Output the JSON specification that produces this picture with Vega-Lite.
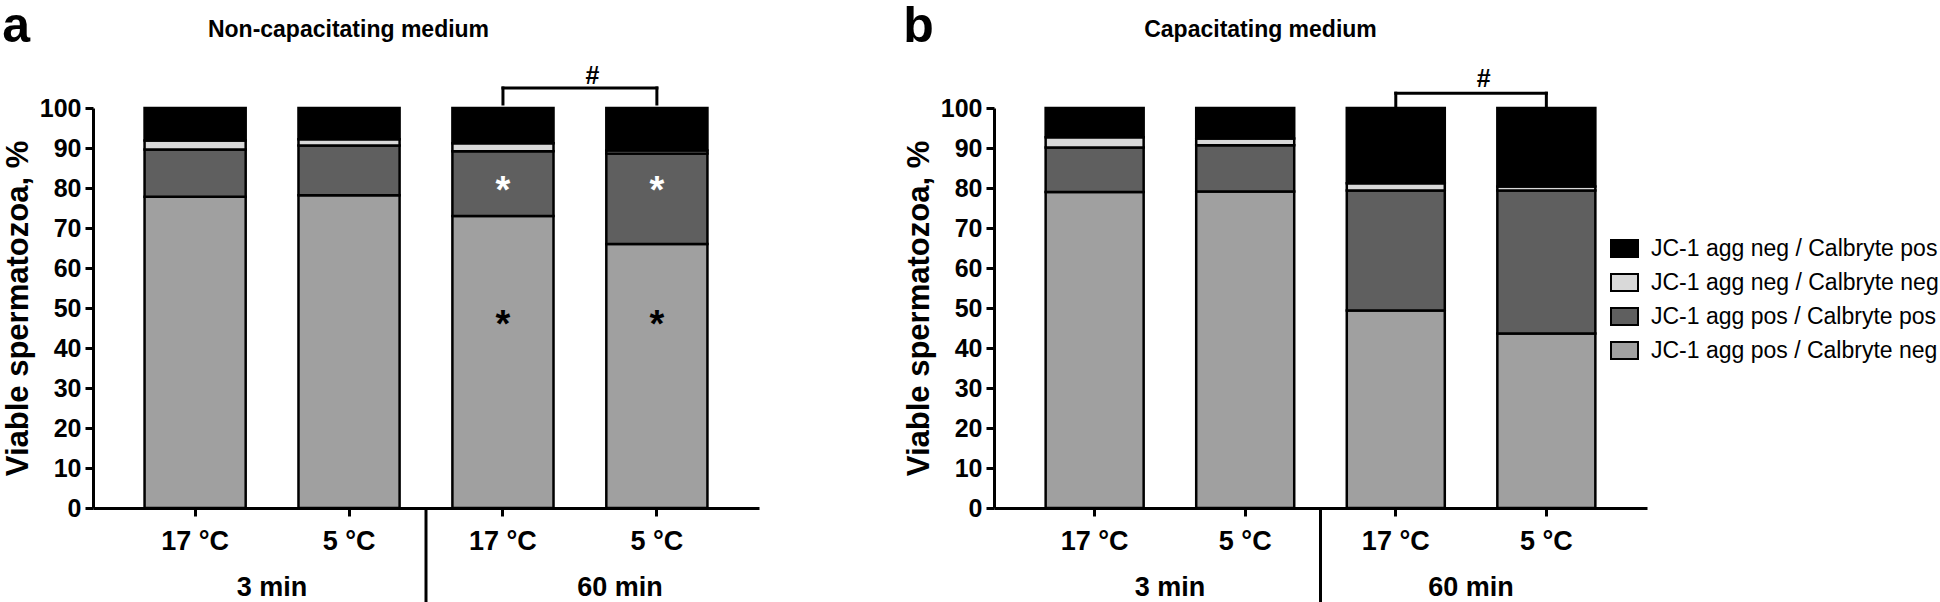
{
  "$schema": "https://vega.github.io/schema/vega-lite/v6.json",
  "padding": {"left": 2, "top": 2, "right": 0, "bottom": 0},
  "background": "white",
  "config": {
    "font": "Liberation Sans",
    "view": {"stroke": null},
    "axis": {"domainColor": "#000", "tickColor": "#000", "labelColor": "#000", "titleColor": "#000", "grid": false, "labelFont": "Liberation Sans", "titleFont": "Liberation Sans", "labelOverlap": false},
    "axisY": {"values": [0, 10, 20, 30, 40, 50, 60, 70, 80, 90, 100], "tickCount": 10, "labelOverlap": false, "titleFontSize": 31, "titleFontWeight": "bold", "titlePadding": 5, "labelFontSize": 25, "labelFontWeight": "bold", "labelPadding": 4, "tickSize": 8, "tickWidth": 3, "domainWidth": 3},
    "title": {"color": "#000", "font": "Liberation Sans"},
    "text": {"font": "Liberation Sans"}
  },
  "datasets": {
    "a": [
      {"cat": "3 min|17 °C", "pop": "JC-1 agg pos / Calbryte neg", "k": 1, "v": 77.8},
      {"cat": "3 min|17 °C", "pop": "JC-1 agg pos / Calbryte pos", "k": 2, "v": 11.8},
      {"cat": "3 min|17 °C", "pop": "JC-1 agg neg / Calbryte neg", "k": 3, "v": 2.3},
      {"cat": "3 min|17 °C", "pop": "JC-1 agg neg / Calbryte pos", "k": 4, "v": 8.1},
      {"cat": "3 min|5 °C", "pop": "JC-1 agg pos / Calbryte neg", "k": 1, "v": 78.2},
      {"cat": "3 min|5 °C", "pop": "JC-1 agg pos / Calbryte pos", "k": 2, "v": 12.4},
      {"cat": "3 min|5 °C", "pop": "JC-1 agg neg / Calbryte neg", "k": 3, "v": 1.6},
      {"cat": "3 min|5 °C", "pop": "JC-1 agg neg / Calbryte pos", "k": 4, "v": 7.8},
      {"cat": "60 min|17 °C", "pop": "JC-1 agg pos / Calbryte neg", "k": 1, "v": 73.0},
      {"cat": "60 min|17 °C", "pop": "JC-1 agg pos / Calbryte pos", "k": 2, "v": 16.2},
      {"cat": "60 min|17 °C", "pop": "JC-1 agg neg / Calbryte neg", "k": 3, "v": 2.0},
      {"cat": "60 min|17 °C", "pop": "JC-1 agg neg / Calbryte pos", "k": 4, "v": 8.8},
      {"cat": "60 min|5 °C", "pop": "JC-1 agg pos / Calbryte neg", "k": 1, "v": 66.0},
      {"cat": "60 min|5 °C", "pop": "JC-1 agg pos / Calbryte pos", "k": 2, "v": 22.6},
      {"cat": "60 min|5 °C", "pop": "JC-1 agg neg / Calbryte neg", "k": 3, "v": 0.8},
      {"cat": "60 min|5 °C", "pop": "JC-1 agg neg / Calbryte pos", "k": 4, "v": 10.6}
    ],
    "b": [
      {"cat": "3 min|17 °C", "pop": "JC-1 agg pos / Calbryte neg", "k": 1, "v": 79.0},
      {"cat": "3 min|17 °C", "pop": "JC-1 agg pos / Calbryte pos", "k": 2, "v": 11.1},
      {"cat": "3 min|17 °C", "pop": "JC-1 agg neg / Calbryte neg", "k": 3, "v": 2.6},
      {"cat": "3 min|17 °C", "pop": "JC-1 agg neg / Calbryte pos", "k": 4, "v": 7.3},
      {"cat": "3 min|5 °C", "pop": "JC-1 agg pos / Calbryte neg", "k": 1, "v": 79.1},
      {"cat": "3 min|5 °C", "pop": "JC-1 agg pos / Calbryte pos", "k": 2, "v": 11.6},
      {"cat": "3 min|5 °C", "pop": "JC-1 agg neg / Calbryte neg", "k": 3, "v": 1.7},
      {"cat": "3 min|5 °C", "pop": "JC-1 agg neg / Calbryte pos", "k": 4, "v": 7.6},
      {"cat": "60 min|17 °C", "pop": "JC-1 agg pos / Calbryte neg", "k": 1, "v": 49.4},
      {"cat": "60 min|17 °C", "pop": "JC-1 agg pos / Calbryte pos", "k": 2, "v": 30.0},
      {"cat": "60 min|17 °C", "pop": "JC-1 agg neg / Calbryte neg", "k": 3, "v": 1.8},
      {"cat": "60 min|17 °C", "pop": "JC-1 agg neg / Calbryte pos", "k": 4, "v": 18.8},
      {"cat": "60 min|5 °C", "pop": "JC-1 agg pos / Calbryte neg", "k": 1, "v": 43.6},
      {"cat": "60 min|5 °C", "pop": "JC-1 agg pos / Calbryte pos", "k": 2, "v": 35.8},
      {"cat": "60 min|5 °C", "pop": "JC-1 agg neg / Calbryte neg", "k": 3, "v": 1.0},
      {"cat": "60 min|5 °C", "pop": "JC-1 agg neg / Calbryte pos", "k": 4, "v": 19.6}
    ]
  },
  "spacing": 144,
  "hconcat": [
    {
      "title": {"text": "a", "anchor": "start", "frame": "bounds", "fontSize": 50, "fontWeight": "bold", "offset": -74, "baseline": "alphabetic"},
      "width": 666,
      "height": 400,
      "layer": [
        {
          "data": {"name": "a"},
          "layer": [
            {
              "mark": {"type": "bar", "stroke": "#000", "strokeWidth": 2.5},
              "encoding": {
                "x": {"field": "cat", "type": "nominal", "scale": {"domain": ["3 min|17 °C", "3 min|5 °C", "60 min|17 °C", "60 min|5 °C"], "paddingInner": 0.343, "paddingOuter": 0.335},
                  "axis": {"orient": "bottom", "title": null, "labelExpr": "split(datum.label, '|')[1]", "labelAngle": 0, "labelFontSize": 27, "labelFontWeight": "bold", "labelPadding": 12, "tickSize": 8, "tickWidth": 3, "domainWidth": 3}},
                "y": {"field": "v", "type": "quantitative", "stack": "zero", "scale": {"domain": [0, 100]}, "title": "Viable spermatozoa, %"},
                "color": {"field": "pop", "type": "nominal", "scale": {"domain": ["JC-1 agg neg / Calbryte pos", "JC-1 agg neg / Calbryte neg", "JC-1 agg pos / Calbryte pos", "JC-1 agg pos / Calbryte neg"], "range": ["#000000", "#d9d9d9", "#5f5f5f", "#a0a0a0"]}, "legend": null},
                "order": {"field": "k", "type": "quantitative"}
              }
            },
            {
              "data": {"values": [{}]},
              "mark": {"type": "rule", "strokeWidth": 3, "strokeCap": "square"},
              "encoding": {
                "x": {"datum": "60 min|17 °C", "type": "nominal"},
                "x2": {"datum": "60 min|5 °C"},
                "y": {"datum": 105, "type": "quantitative", "scale": {"domain": [0, 100]}, "title": "Viable spermatozoa, %"}
              }
            },
            {
              "data": {"values": [{"cat": "60 min|17 °C"}, {"cat": "60 min|5 °C"}]},
              "mark": {"type": "rule", "strokeWidth": 3, "strokeCap": "square"},
              "encoding": {
                "x": {"field": "cat", "type": "nominal"},
                "y": {"datum": 101, "type": "quantitative", "scale": {"domain": [0, 100]}, "title": "Viable spermatozoa, %"},
                "y2": {"datum": 105}
              }
            },
            {
              "data": {"values": [{"cat": "60 min|17 °C"}, {"cat": "60 min|5 °C"}]},
              "mark": {"type": "text", "text": "*", "fontSize": 38, "fontWeight": "bold", "color": "#ffffff", "baseline": "middle"},
              "encoding": {
                "x": {"field": "cat", "type": "nominal"},
                "y": {"datum": 79, "type": "quantitative", "scale": {"domain": [0, 100]}, "title": "Viable spermatozoa, %"}
              }
            },
            {
              "data": {"values": [{"cat": "60 min|17 °C"}, {"cat": "60 min|5 °C"}]},
              "mark": {"type": "text", "text": "*", "fontSize": 38, "fontWeight": "bold", "color": "#000000", "baseline": "middle"},
              "encoding": {
                "x": {"field": "cat", "type": "nominal"},
                "y": {"datum": 45.5, "type": "quantitative", "scale": {"domain": [0, 100]}, "title": "Viable spermatozoa, %"}
              }
            }
          ]
        },
        {
          "data": {"values": [{"group": "60 min"}]},
          "mark": {"type": "rule", "strokeWidth": 3},
          "encoding": {
            "x": {"field": "group", "type": "nominal", "bandPosition": 0, "scale": {"domain": ["3 min", "60 min"], "paddingInner": 0, "paddingOuter": 0.0818},
              "axis": {"orient": "bottom", "title": null, "domain": false, "ticks": false, "labelAngle": 0, "labelPadding": 66, "labelFontSize": 27, "labelFontWeight": "bold", "labelOffset": {"condition": {"test": "datum.value === '60 min'", "value": 40}, "value": 0}}},
            "y": {"datum": 0, "type": "quantitative", "scale": {"domain": [0, 100]}, "title": "Viable spermatozoa, %"},
            "y2": {"datum": -25}
          }
        },
        {
          "data": {"values": [{"group": "60 min"}]},
          "mark": {"type": "text", "text": "#", "fontSize": 25, "fontWeight": "bold", "baseline": "middle"},
          "encoding": {
            "x": {"field": "group", "type": "nominal", "scale": {"domain": ["3 min", "60 min"], "paddingInner": 0, "paddingOuter": 0.0818},
              "axis": {"orient": "top", "title": "Non-capacitating medium", "labels": false, "ticks": false, "domain": false, "titlePadding": 67, "titleFontSize": 23, "titleFontWeight": "bold", "titleX": 255}},
            "y": {"datum": 108, "type": "quantitative", "scale": {"domain": [0, 100]}, "title": "Viable spermatozoa, %"}
          }
        }
      ],
      "resolve": {"scale": {"x": "independent"}}
    },
    {
      "title": {"text": "b", "anchor": "start", "frame": "bounds", "fontSize": 50, "fontWeight": "bold", "offset": -74, "baseline": "alphabetic"},
      "width": 653,
      "height": 400,
      "layer": [
        {
          "data": {"name": "b"},
          "layer": [
            {
              "mark": {"type": "bar", "stroke": "#000", "strokeWidth": 2.5},
              "encoding": {
                "x": {"field": "cat", "type": "nominal", "scale": {"domain": ["3 min|17 °C", "3 min|5 °C", "60 min|17 °C", "60 min|5 °C"], "paddingInner": 0.349, "paddingOuter": 0.343},
                  "axis": {"orient": "bottom", "title": null, "labelExpr": "split(datum.label, '|')[1]", "labelAngle": 0, "labelFontSize": 27, "labelFontWeight": "bold", "labelPadding": 12, "tickSize": 8, "tickWidth": 3, "domainWidth": 3}},
                "y": {"field": "v", "type": "quantitative", "stack": "zero", "scale": {"domain": [0, 100]}, "title": "Viable spermatozoa, %"},
                "color": {"field": "pop", "type": "nominal", "scale": {"domain": ["JC-1 agg neg / Calbryte pos", "JC-1 agg neg / Calbryte neg", "JC-1 agg pos / Calbryte pos", "JC-1 agg pos / Calbryte neg"], "range": ["#000000", "#d9d9d9", "#5f5f5f", "#a0a0a0"]},
                  "legend": {"title": null, "orient": "none", "legendX": 616, "legendY": 126, "padding": 0, "symbolType": "M-1,-0.63H1V0.63H-1Z", "symbolSize": 729, "symbolStrokeColor": "#000", "symbolStrokeWidth": 2, "labelFontSize": 23, "labelFont": "Liberation Sans", "labelColor": "#000", "labelLimit": 0, "labelOffset": 12, "rowPadding": 6}},
                "order": {"field": "k", "type": "quantitative"}
              }
            },
            {
              "data": {"values": [{}]},
              "mark": {"type": "rule", "strokeWidth": 3, "strokeCap": "square"},
              "encoding": {
                "x": {"datum": "60 min|17 °C", "type": "nominal"},
                "x2": {"datum": "60 min|5 °C"},
                "y": {"datum": 103.7, "type": "quantitative", "scale": {"domain": [0, 100]}, "title": "Viable spermatozoa, %"}
              }
            },
            {
              "data": {"values": [{"cat": "60 min|17 °C"}, {"cat": "60 min|5 °C"}]},
              "mark": {"type": "rule", "strokeWidth": 3, "strokeCap": "square"},
              "encoding": {
                "x": {"field": "cat", "type": "nominal"},
                "y": {"datum": 100.3, "type": "quantitative", "scale": {"domain": [0, 100]}, "title": "Viable spermatozoa, %"},
                "y2": {"datum": 103.7}
              }
            }
          ]
        },
        {
          "data": {"values": [{"group": "60 min"}]},
          "mark": {"type": "rule", "strokeWidth": 3},
          "encoding": {
            "x": {"field": "group", "type": "nominal", "bandPosition": 0, "scale": {"domain": ["3 min", "60 min"], "paddingInner": 0, "paddingOuter": 0.0843},
              "axis": {"orient": "bottom", "title": null, "domain": false, "ticks": false, "labelAngle": 0, "labelPadding": 66, "labelFontSize": 27, "labelFontWeight": "bold"}},
            "y": {"datum": 0, "type": "quantitative", "scale": {"domain": [0, 100]}, "title": "Viable spermatozoa, %"},
            "y2": {"datum": -25}
          }
        },
        {
          "data": {"values": [{"group": "60 min"}]},
          "mark": {"type": "text", "text": "#", "fontSize": 25, "fontWeight": "bold", "baseline": "middle"},
          "encoding": {
            "x": {"field": "group", "type": "nominal", "scale": {"domain": ["3 min", "60 min"], "paddingInner": 0, "paddingOuter": 0.0843},
              "axis": {"orient": "top", "title": "Capacitating medium", "labels": false, "ticks": false, "domain": false, "titlePadding": 67, "titleFontSize": 23, "titleFontWeight": "bold", "titleX": 266}},
            "y": {"datum": 107.3, "type": "quantitative", "scale": {"domain": [0, 100]}, "title": "Viable spermatozoa, %"}
          }
        }
      ],
      "resolve": {"scale": {"x": "independent"}}
    }
  ],
  "resolve": {"scale": {"x": "independent", "y": "independent", "color": "independent"}, "legend": {"color": "independent"}}
}
